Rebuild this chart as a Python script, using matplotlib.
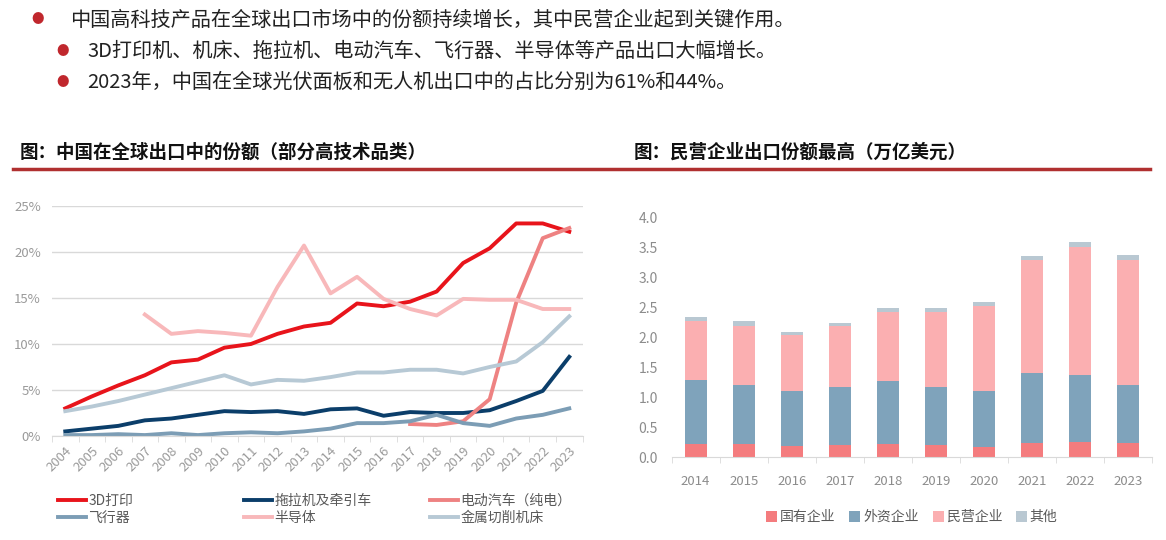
import matplotlib.pyplot as plt
import numpy as np

plt.rcParams['font.family'] = ['Noto Sans CJK SC', 'DejaVu Sans']

# Left chart: share of China in global exports
years = [str(y) for y in range(2004, 2024)]
print_3d = [3.0, 4.3, 5.5, 6.6, 8.0, 8.3, 9.6, 10.0, 11.1, 11.9, 12.3, 14.4, 14.1, 14.6, 15.7, 18.8, 20.4, 23.1, 23.1, 22.2]
tractor = [0.5, 0.8, 1.1, 1.7, 1.9, 2.3, 2.7, 2.6, 2.7, 2.4, 2.9, 3.0, 2.2, 2.6, 2.5, 2.5, 2.8, 3.8, 4.9, 8.6]
ev = [None] * 13 + [1.3, 1.2, 1.6, 4.0, 14.5, 21.5, 22.6]
aircraft = [0.1, 0.1, 0.2, 0.1, 0.3, 0.1, 0.3, 0.4, 0.3, 0.5, 0.8, 1.4, 1.4, 1.6, 2.3, 1.4, 1.1, 1.9, 2.3, 3.0]
semi = [None] * 3 + [13.2, 11.1, 11.4, 11.2, 10.9, 16.2, 20.7, 15.5, 17.3, 14.9, 13.8, 13.1, 14.9, 14.8, 14.8, 13.8, 13.8]
metal = [2.7, 3.2, 3.8, 4.5, 5.2, 5.9, 6.6, 5.6, 6.1, 6.0, 6.4, 6.9, 6.9, 7.2, 7.2, 6.8, 7.5, 8.1, 10.2, 13.0]

# Right chart: exports by ownership (trillion USD)
bar_years = [str(y) for y in range(2014, 2024)]
state = [0.22, 0.21, 0.18, 0.20, 0.22, 0.20, 0.17, 0.24, 0.25, 0.24]
foreign = [1.07, 1.00, 0.92, 0.97, 1.05, 0.97, 0.93, 1.16, 1.13, 0.96]
private = [0.98, 0.99, 0.94, 1.03, 1.15, 1.25, 1.42, 1.89, 2.14, 2.10]
other = [0.07, 0.07, 0.05, 0.05, 0.07, 0.08, 0.07, 0.08, 0.07, 0.08]

fig = plt.figure(figsize=(11.66, 5.4), dpi=100)

# header bullets
bullets = [
    (0.032, 0.963, 0.060, '中国高科技产品在全球出口市场中的份额持续增长，其中民营企业起到关键作用。'),
    (0.054, 0.904, 0.075, '3D打印机、机床、拖拉机、电动汽车、飞行器、半导体等产品出口大幅增长。'),
    (0.054, 0.848, 0.075, '2023年，中国在全球光伏面板和无人机出口中的占比分别为61%和44%。'),
]
for bx, by, tx, txt in bullets:
    fig.text(bx, by, '●', color='#C0272D', fontsize=9, va='center', ha='center')
    fig.text(tx, by, txt, color='#222222', fontsize=14.5, va='center')

# section titles and red rule
fig.text(0.017, 0.718, '图：中国在全球出口中的份额（部分高技术品类）', fontsize=13.3,
         fontweight='bold', va='center', color='#111111')
fig.text(0.543, 0.718, '图：民营企业出口份额最高（万亿美元）', fontsize=13.3,
         fontweight='bold', va='center', color='#111111')
fig.add_artist(plt.Line2D([0.011, 0.986], [0.687, 0.687], color='#B03030', lw=2.5))

# ---- left line chart
ax1 = fig.add_axes([0.0446, 0.1926, 0.455, 0.426])
x = np.arange(len(years))
series = [
    ('3D打印', print_3d, '#E8141B'),
    ('拖拉机及牵引车', tractor, '#0B3E6A'),
    ('电动汽车（纯电）', ev, '#EE8282'),
    ('飞行器', aircraft, '#7C9DB5'),
    ('半导体', semi, '#F8B8BA'),
    ('金属切削机床', metal, '#B7C9D5'),
]
handles = {}
for name, vals, col in series:
    v = np.array([np.nan if a is None else a for a in vals], dtype=float) / 100
    h, = ax1.plot(x, v, color=col, lw=2.8, label=name)
    handles[name] = h
ax1.set_xlim(-0.5, len(years) - 0.5)
ax1.set_ylim(0, 0.25)
ax1.set_yticks(np.arange(0, 0.26, 0.05))
ax1.set_yticklabels(['0%', '5%', '10%', '15%', '20%', '25%'])
ax1.yaxis.grid(True, color='#D9D9D9', lw=1)
ax1.set_axisbelow(True)
ax1.set_xticks(x)
ax1.set_xticklabels(years, rotation=45, ha='right', rotation_mode='anchor')
ax1.set_xticks(np.arange(-0.5, len(years)), minor=True)
ax1.tick_params(axis='x', which='major', length=0, labelsize=9.5, colors='#9A9A9A', pad=6)
ax1.tick_params(axis='x', which='minor', length=4, color='#D9D9D9')
ax1.tick_params(axis='y', length=0, labelsize=9.5, colors='#9A9A9A', pad=8)
for s in ['top', 'right', 'left']:
    ax1.spines[s].set_visible(False)
ax1.spines['bottom'].set_color('#D9D9D9')

# legend laid out as three separate columns
columns = [('3D打印', '飞行器'), ('拖拉机及牵引车', '半导体'), ('电动汽车（纯电）', '金属切削机床')]
for i, pair in enumerate(columns):
    fig.legend([handles[n] for n in pair], pair, loc='upper left',
               bbox_to_anchor=(0.050 + i * 0.1595, 0.085), frameon=False, fontsize=10,
               labelcolor='#595959', handlelength=2.0, handletextpad=0.15,
               labelspacing=0.2, borderaxespad=0, borderpad=0)

# ---- right stacked bar chart
ax2 = fig.add_axes([0.576, 0.1537, 0.412, 0.4426])
bx = np.arange(len(bar_years))
bottom = np.zeros(len(bar_years))
for name, vals, col in [('国有企业', state, '#F47C7E'), ('外资企业', foreign, '#7FA3BB'),
                        ('民营企业', private, '#FBAFB1'), ('其他', other, '#B9C8D2')]:
    ax2.bar(bx, vals, 0.46, bottom=bottom, color=col, label=name)
    bottom += np.array(vals)
ax2.set_xlim(-0.5, len(bar_years) - 0.5)
ax2.set_ylim(0, 4.0)
ax2.set_yticks(np.arange(0, 4.01, 0.5))
ax2.set_yticklabels([f'{v:.1f}' for v in np.arange(0, 4.01, 0.5)])
ax2.set_xticks(bx)
ax2.set_xticklabels(bar_years)
ax2.set_xticks(np.arange(-0.5, len(bar_years)), minor=True)
ax2.tick_params(axis='x', which='major', length=0, labelsize=9.5, colors='#8C8C8C', pad=13)
ax2.tick_params(axis='x', which='minor', length=4, color='#D9D9D9')
ax2.tick_params(axis='y', length=0, labelsize=10, colors='#8C8C8C', pad=10)
for s in ['top', 'right', 'left']:
    ax2.spines[s].set_visible(False)
ax2.spines['bottom'].set_color('#D9D9D9')
ax2.legend(ncol=4, loc='upper center', bbox_to_anchor=(0.5, -0.17), frameon=False,
           fontsize=10, labelcolor='#595959', handlelength=0.8, handleheight=0.8,
           handletextpad=0.2, columnspacing=1.0)

plt.savefig('out.png', dpi=100)
